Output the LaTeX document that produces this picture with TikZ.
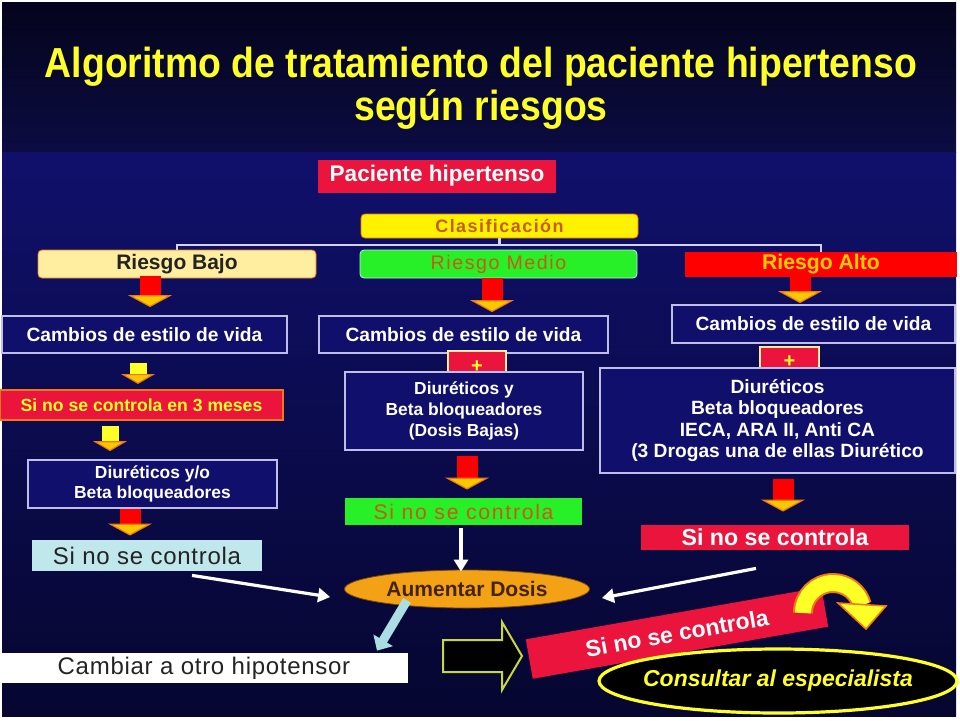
\documentclass[tikz,border=0pt]{standalone}
\usepackage{fontspec}
\setmainfont{Liberation Sans}
\newfontfamily\titlefont[FakeStretch=0.89]{Liberation Sans}
\newfontfamily\spacedfont[LetterSpace=8]{Liberation Sans}
\newfontfamily\loosefont[LetterSpace=3]{Liberation Sans}
\usetikzlibrary{arrows.meta,shapes.geometric}

\definecolor{bgnavy}{RGB}{16,16,108}
\definecolor{bgbottom}{RGB}{6,6,48}
\definecolor{bgtitletop}{RGB}{4,4,28}
\definecolor{bgtitlebot}{RGB}{12,12,66}
\definecolor{boxred}{RGB}{234,20,60}
\definecolor{altored}{RGB}{255,0,0}
\definecolor{titleyellow}{RGB}{255,255,40}
\definecolor{boxgreen}{RGB}{40,240,40}
\definecolor{orangetext}{RGB}{200,90,20}
\definecolor{paleyellow}{RGB}{255,238,160}
\definecolor{palecyan}{RGB}{192,232,236}
\definecolor{dosisorange}{RGB}{242,162,20}
\definecolor{dosistext}{RGB}{70,35,0}
\definecolor{frameblue}{RGB}{190,190,232}
\definecolor{headyellow}{RGB}{250,200,0}
\definecolor{headorange}{RGB}{240,120,20}
\definecolor{arrowcyan}{RGB}{170,222,226}
\definecolor{outlinegreen}{RGB}{200,215,60}
\definecolor{darktext}{RGB}{35,35,35}
\definecolor{alttext}{RGB}{255,205,0}

\begin{document}
\begin{tikzpicture}[x=0.5pt, y=-0.5pt,
  box/.style={draw=frameblue, line width=0.9pt, fill=bgnavy, text=white, align=center, inner sep=0pt, font=\bfseries\fontsize{9.6}{11}\selectfont},
  tag/.style={inner sep=0pt, align=center},
  plusbox/.style={inner sep=0pt, text height=9.5pt, text depth=0pt, fill=boxred, draw=paleyellow, line width=0.8pt, text=titleyellow, font=\bfseries\fontsize{10}{10}\selectfont},
  redarrow/.style={draw=altored, line width=10.5pt, -{Triangle[length=6pt, width=22pt, fill=headyellow, color=headorange, line width=0.6pt]}},
  yellowarrow/.style={draw=titleyellow, line width=8.5pt, -{Triangle[length=5pt, width=17pt, fill=headyellow, color=headorange, line width=0.6pt]}},
  whitearrow/.style={draw=white, line width=1.6pt, -{Triangle[length=6pt, width=7pt]}},
]
\useasboundingbox (0,0) rectangle (960,720);

% background
\fill[white] (0,0) rectangle (960,720);
\shade[top color=bgtitletop, bottom color=bgtitlebot] (2,2) rectangle (956,152);
\shade[top color=bgnavy, bottom color=bgbottom] (2,152) rectangle (956,716);

% title
\node[tag, text=titleyellow, font=\titlefont\bfseries\fontsize{21}{21.5}\selectfont] (title) at (481,88)
  {Algoritmo de tratamiento del paciente hipertenso\\según riesgos};

% top of the tree
\node[tag, fill=boxred, text=white, minimum width=119pt, minimum height=16.5pt, font=\bfseries\fontsize{11.3}{12}\selectfont] (pac) at (437,176) {Paciente hipertenso};
\node[tag, fill=yellow, draw=headorange, rounded corners=2pt, minimum width=138.5pt, minimum height=12pt, text=orangetext, font=\spacedfont\bfseries\fontsize{9}{10}\selectfont] (clas) at (499.5,226) {Clasificación};

\node[tag, fill=paleyellow, draw=headorange, rounded corners=2pt, minimum width=139pt, minimum height=14pt, text=darktext, font=\bfseries\fontsize{10.5}{11}\selectfont] (bajo) at (177,264) {Riesgo Bajo};
\node[tag, fill=boxgreen, draw=palecyan, rounded corners=2pt, minimum width=138.5pt, minimum height=14pt, text=orangetext, font=\spacedfont\fontsize{9.8}{11}\selectfont] (medio) at (498.5,264) {Riesgo Medio};
\node[tag, fill=altored, minimum width=136pt, minimum height=12.5pt, text=alttext, font=\bfseries\fontsize{10.6}{11}\selectfont] (alto) at (821,264.5) {Riesgo Alto};

\coordinate (rama) at (499.5,245);
\draw[frameblue!70!white, line width=1.2pt] (bajo.north) |- (rama) -| (alto.north);
\draw[frameblue!70!white, line width=1.2pt] (clas.south) -- (rama);

% Riesgo Bajo (left)
\node[box, minimum width=142.5pt, minimum height=18.5pt] (cambL) at (144.5,334.5) {Cambios de estilo de vida};
\node[tag, fill=boxred, draw=headorange, line width=1pt, minimum width=141.5pt, minimum height=15pt, text=titleyellow, font=\bfseries\fontsize{8.8}{10}\selectfont] (meses) at (141.5,405) {Si no se controla en 3 meses};
\node[box, minimum width=124.5pt, minimum height=24pt, font=\bfseries\fontsize{8.7}{10}\selectfont] (diurL) at (152.5,484) {Diuréticos y/o\\Beta bloqueadores};
\node[tag, fill=palecyan, minimum width=115pt, minimum height=15.5pt, text=darktext, font=\loosefont\fontsize{12}{13}\selectfont] (sncL) at (147,555.5) {Si no se controla};

\draw[redarrow] ([xshift=-13.5pt,yshift=1pt]bajo.south) -- ([xshift=2.75pt,yshift=4pt]cambL.north);
\draw[yellowarrow] ([xshift=-3.25pt,yshift=-4.5pt]cambL.south) -- ([xshift=-1.75pt,yshift=2.5pt]meses.north);
\draw[yellowarrow] ([xshift=-15.75pt,yshift=-2.5pt]meses.south) -- ([xshift=-21.25pt,yshift=4pt]diurL.north);
\draw[redarrow] ([xshift=-11.25pt]diurL.south) -- ([xshift=-8.5pt,yshift=2pt]sncL.north);

% Riesgo Medio (middle)
\node[box, minimum width=144.5pt, minimum height=18.5pt] (cambM) at (463.5,334.5) {Cambios de estilo de vida};
\node[plusbox, minimum width=29pt, minimum height=12pt] (masM) at (477,363) {+};
\node[box, minimum width=119pt, minimum height=39pt, font=\bfseries\fontsize{8.7}{10.3}\selectfont] (diurM) at (464,411) {Diuréticos y\\Beta bloqueadores\\(Dosis Bajas)};
\node[tag, fill=boxgreen, minimum width=118.5pt, minimum height=13.5pt, text=orangetext, font=\spacedfont\fontsize{10.6}{11}\selectfont] (sncM) at (463.5,511.5) {Si no se controla};
\node[tag, ellipse, fill=dosisorange, draw=dosistext!70!dosisorange, minimum width=122.5pt, minimum height=19pt, text=dosistext, font=\bfseries\fontsize{10.5}{12}\selectfont] (dosis) at (467,589) {Aumentar Dosis};

\draw[redarrow] ([xshift=-3.25pt]medio.south) -- ([xshift=14.25pt,yshift=1.5pt]cambM.north);
\draw[redarrow] ([xshift=1.5pt,yshift=-2.5pt]diurM.south) -- ([xshift=1.75pt,yshift=4pt]sncM.north);
\draw[whitearrow] ([xshift=-1.25pt,yshift=-1.5pt]sncM.south) -- ([xshift=-3pt,yshift=-1pt]dosis.north);

% Riesgo Alto (right)
\node[box, minimum width=141.5pt, minimum height=19pt] (cambR) at (813.5,324) {Cambios de estilo de vida};
\node[plusbox, minimum width=29.5pt, minimum height=10.5pt] (masR) at (789.5,357.5) {+};
\node[box, minimum width=177.5pt, minimum height=52.5pt, font=\bfseries\fontsize{9.6}{10.8}\selectfont] (diurR) at (777.5,420.5) {Diuréticos\\Beta bloqueadores\\IECA, ARA II, Anti CA\\(3 Drogas una de ellas Diurético};
\node[tag, fill=boxred, minimum width=134pt, minimum height=12.5pt, text=white, font=\bfseries\fontsize{11.6}{12}\selectfont] (sncR) at (775,537.5) {Si no se controla};

\draw[redarrow] ([xshift=-10.5pt,yshift=1pt]alto.south) -- ([xshift=-6.75pt,yshift=0.5pt]cambR.north);
\draw[redarrow] ([xshift=2.75pt,yshift=-2.5pt]diurR.south) -- ([xshift=4pt,yshift=6.5pt]sncR.north);

% towards Aumentar Dosis
\draw[whitearrow] ([xshift=22.5pt,yshift=-2pt]sncL.south) -- ([xshift=-7pt,yshift=-4pt]dosis.west);
\draw[whitearrow] ([xshift=-9.5pt,yshift=-9pt]sncR.south) -- ([xshift=6pt,yshift=-4.5pt]dosis.east);

% bottom row
\node[tag, fill=white, minimum width=204pt, minimum height=15pt, text=darktext, font=\loosefont\fontsize{12}{13}\selectfont] (cambiar) at (204,668) {Cambiar a otro hipotensor};
\draw[arrowcyan, line width=4.5pt, -{Triangle[length=6pt, width=11pt]}] ([xshift=-30pt,yshift=4pt]dosis.south) -- ([xshift=86.5pt,yshift=1pt]cambiar.north);

\draw[outlinegreen, line width=1pt, fill=black] (443,640) -- (502,640) -- (502,622) -- (522,656) -- (502,690) -- (502,672) -- (443,672) -- cycle;

\node[tag, rotate=10, fill=boxred, minimum width=150pt, minimum height=20pt, text=white, font=\bfseries\fontsize{11.5}{12}\selectfont] (sncRot) at (677,633) {Si no se controla};

\draw[headorange, line width=10pt] (803,613) arc[start angle=180, end angle=15, radius=15pt];
\draw[titleyellow, line width=8pt] (803,613) arc[start angle=180, end angle=15, radius=15pt];
\draw[headorange, line width=0.8pt, fill=titleyellow] (838,603) -- (886,606) -- (866,629) -- cycle;

\node[tag, ellipse, inner xsep=-4.5pt, fill=black, draw=titleyellow, line width=1.6pt, minimum width=179pt, minimum height=32pt, text=titleyellow, font=\bfseries\itshape\fontsize{11.5}{12}\selectfont] (consultar) at (778,681) {Consultar al especialista};
\end{tikzpicture}
\end{document}
